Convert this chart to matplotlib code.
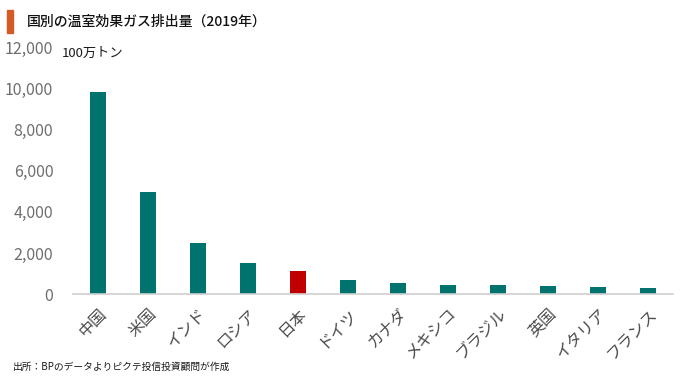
import matplotlib.pyplot as plt
from matplotlib.ticker import FuncFormatter

plt.rcParams['font.family'] = ['Noto Sans CJK JP', 'DejaVu Sans']

# data (100万トン, 2019)
countries = ["中国", "米国", "インド", "ロシア", "日本", "ドイツ",
             "カナダ", "メキシコ", "ブラジル", "英国", "イタリア", "フランス"]
emissions = [9826, 4965, 2480, 1533, 1123, 684, 556, 455, 441, 387, 337, 300]
highlight = "日本"

TEAL = "#00736e"
RED = "#c00000"
GRAY = "#6e6e6e"

fig = plt.figure(figsize=(6.8, 3.83), dpi=100)
ax = fig.add_axes([0.107, 0.232, 0.883, 0.645])

colors = [RED if c == highlight else TEAL for c in countries]
x = list(range(len(countries)))
ax.bar(x, emissions, width=0.31, color=colors)

ax.set_xlim(-0.5, len(countries) - 0.5)
ax.set_ylim(0, 12000)
ax.set_yticks(range(0, 12001, 2000))
ax.yaxis.set_major_formatter(FuncFormatter(lambda v, p: f"{int(v):,}"))
ax.tick_params(axis="y", length=0, labelsize=11.5, labelcolor=GRAY, pad=14)
ax.set_xticks(x)
ax.set_xticklabels(countries, rotation=45, ha="right", rotation_mode="anchor",
                   fontsize=11.5, color="#4a4a4a")
ax.tick_params(axis="x", length=0, pad=8)

for side in ["top", "right", "left"]:
    ax.spines[side].set_visible(False)
ax.spines["bottom"].set_color("#d0d0d0")
ax.spines["bottom"].set_linewidth(1.2)

# title with orange marker
fig.patches.append(plt.Rectangle((7 / 680, 1 - 33 / 383), 6 / 680, 23 / 383,
                                 transform=fig.transFigure, color="#d55b26"))
fig.text(27 / 680, 1 - 22 / 383, "国別の温室効果ガス排出量（2019年）",
         fontsize=10, va="center", color="#111111", fontweight="medium")
fig.text(62 / 680, 1 - 53 / 383, "100万トン", fontsize=9.5, va="center",
         color="#1a1a1a")
fig.text(13 / 680, 1 - 367 / 383, "出所：BPのデータよりピクテ投信投資顧問が作成",
         fontsize=7, va="center", color="#1a1a1a")

fig.savefig("out.png", dpi=100)
